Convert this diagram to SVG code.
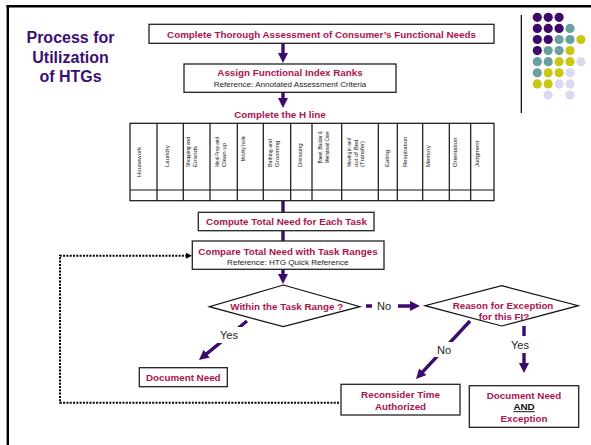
<svg xmlns="http://www.w3.org/2000/svg" width="591" height="445" viewBox="0 0 591 445">
<defs>
<style>
.bx{fill:#fff;stroke:#222;stroke-width:1.3}
.t{font-family:"Liberation Sans",Arial,sans-serif;font-weight:bold;font-size:9.8px;fill:#ab1350;text-anchor:middle}
.r{font-family:"Liberation Sans",Arial,sans-serif;font-size:8.1px;fill:#222;text-anchor:middle}
.lb{font-family:"Liberation Sans",Arial,sans-serif;font-size:11px;fill:#222;text-anchor:middle}
.ttl{font-family:"Liberation Sans",Arial,sans-serif;font-weight:bold;font-size:16px;fill:#3d0f70;text-anchor:middle}
.v{font-family:"Liberation Sans",Arial,sans-serif;font-size:6px;fill:#111}
.ar{stroke:#3c0b6e;stroke-width:3.4;fill:none}
.dp{fill:#3d0a6b}.dt{fill:#68a0a0}.dy{fill:#c8c814}.dl{fill:#d9d9ef}
</style>
<marker id="ah" markerUnits="userSpaceOnUse" markerWidth="10" markerHeight="10" viewBox="0 0 10 10" refX="3" refY="5" orient="auto">
<path d="M0,0 L10,5 L0,10 z" fill="#3c0b6e"/>
</marker>
</defs>
<rect width="591" height="445" fill="#fff"/>
<g id="frame">
<line x1="6.5" y1="6.2" x2="591" y2="6.2" stroke="#000" stroke-width="2.4"/>
<line x1="7.8" y1="5" x2="7.8" y2="445" stroke="#000" stroke-width="2.4"/>
<line x1="521.3" y1="15" x2="521.3" y2="113" stroke="#000" stroke-width="1.2"/>
</g>
<g id="dots">
<circle class="dp" cx="537.3" cy="17.3" r="4.6"/><circle class="dp" cx="548.2" cy="17.3" r="4.6"/><circle class="dp" cx="559.1" cy="17.3" r="4.6"/>
<circle class="dp" cx="537.3" cy="28.4" r="4.6"/><circle class="dp" cx="548.2" cy="28.4" r="4.6"/><circle class="dp" cx="559.1" cy="28.4" r="4.6"/><circle class="dt" cx="570" cy="28.4" r="4.6"/>
<circle class="dp" cx="537.3" cy="39.5" r="4.6"/><circle class="dp" cx="548.2" cy="39.5" r="4.6"/><circle class="dt" cx="559.1" cy="39.5" r="4.6"/><circle class="dt" cx="570" cy="39.5" r="4.6"/><circle class="dy" cx="580.9" cy="39.5" r="4.6"/>
<circle class="dp" cx="537.3" cy="50.6" r="4.6"/><circle class="dt" cx="548.2" cy="50.6" r="4.6"/><circle class="dt" cx="559.1" cy="50.6" r="4.6"/><circle class="dy" cx="570" cy="50.6" r="4.6"/>
<circle class="dt" cx="537.3" cy="61.7" r="4.6"/><circle class="dt" cx="548.2" cy="61.7" r="4.6"/><circle class="dy" cx="559.1" cy="61.7" r="4.6"/><circle class="dy" cx="570" cy="61.7" r="4.6"/><circle class="dl" cx="580.9" cy="61.7" r="4.6"/>
<circle class="dt" cx="537.3" cy="72.8" r="4.6"/><circle class="dy" cx="548.2" cy="72.8" r="4.6"/><circle class="dy" cx="559.1" cy="72.8" r="4.6"/><circle class="dl" cx="570" cy="72.8" r="4.6"/>
<circle class="dy" cx="537.3" cy="83.9" r="4.6"/><circle class="dy" cx="548.2" cy="83.9" r="4.6"/><circle class="dl" cx="559.1" cy="83.9" r="4.6"/><circle class="dl" cx="570" cy="83.9" r="4.6"/>
<circle class="dl" cx="548.2" cy="95" r="4.6"/><circle class="dl" cx="570" cy="95" r="4.6"/>
</g>
<g id="title">
<text class="ttl" x="70.5" y="43.3">Process for</text>
<text class="ttl" x="70.5" y="63.3">Utilization</text>
<text class="ttl" x="70.5" y="82">of HTGs</text>
</g>
<g id="connectors">
<line class="ar" x1="283" y1="43" x2="283" y2="56" marker-end="url(#ah)"/>
<line class="ar" x1="283" y1="92" x2="283" y2="101" marker-end="url(#ah)"/>
<line class="ar" x1="283" y1="201" x2="283" y2="212"/>
<line class="ar" x1="283" y1="231" x2="283" y2="241"/>
<line class="ar" x1="283" y1="269" x2="283" y2="277" marker-end="url(#ah)"/>
<line class="ar" x1="366" y1="306" x2="413" y2="306" marker-end="url(#ah)"/>
<line class="ar" x1="470" y1="321" x2="420.8" y2="373.9" marker-end="url(#ah)"/>
<line class="ar" x1="524" y1="326" x2="524" y2="366" marker-end="url(#ah)"/>
<line class="ar" x1="247" y1="321" x2="204.4" y2="355.6" marker-end="url(#ah)"/>
<path d="M339,402.7 H60 V255.8 H186" fill="none" stroke="#000" stroke-width="2" stroke-dasharray="2 1.3"/>
<polygon points="186,252.8 192,255.8 186,258.8" fill="#000"/>
<rect x="372" y="298" width="26" height="16" fill="#fff"/>
<text class="lb" x="384" y="310">No</text>
<rect x="433" y="342" width="22" height="15" fill="#fff"/>
<text class="lb" x="444" y="354">No</text>
<rect x="508" y="336" width="25" height="17" fill="#fff"/>
<text class="lb" x="520" y="349">Yes</text>
<rect x="216" y="327" width="26" height="16" fill="#fff"/>
<text class="lb" x="229" y="339">Yes</text>
</g>
<g id="n1">
<rect class="bx" x="149" y="24.3" width="345" height="19"/>
<text class="t" x="321.5" y="37.5">Complete Thorough Assessment of Consumer’s Functional Needs</text>
</g>
<g id="n2">
<rect class="bx" x="184" y="64" width="212" height="28.3"/>
<text class="t" x="290" y="76.2">Assign Functional Index Ranks</text>
<text class="r" x="290" y="87.2">Reference: Annotated Assessment Criteria</text>
</g>
<g id="n3">
<text class="t" x="280" y="118.2">Complete the H line</text>
<g fill="none" stroke="#111" stroke-width="1.2">
<rect x="130" y="123.3" width="364" height="77.4"/>
<line x1="130" y1="190" x2="494" y2="190"/>
<path d="M157,123.3V200.7 M183.3,123.3V200.7 M210,123.3V200.7 M237.3,123.3V200.7 M263.3,123.3V200.7 M290.7,123.3V200.7 M312,123.3V200.7 M341.7,123.3V200.7 M378.3,123.3V200.7 M397.3,123.3V200.7 M422.7,123.3V200.7 M449.3,123.3V200.7 M470.7,123.3V200.7"/>
</g>
<text class="v" transform="translate(141.3,177) rotate(-90)">Housework</text>
<text class="v" transform="translate(168.5,167) rotate(-90)">Laundry</text>
<text class="v" transform="translate(190.3,167) rotate(-90)" textLength="30" lengthAdjust="spacingAndGlyphs">Shopping and</text>
<text class="v" transform="translate(197.3,167) rotate(-90)">Errands</text>
<text class="v" transform="translate(218.7,167) rotate(-90)" textLength="30" lengthAdjust="spacingAndGlyphs">Meal Prep and</text>
<text class="v" transform="translate(226.3,167) rotate(-90)">Clean up</text>
<text class="v" transform="translate(245.3,161) rotate(-90)" textLength="25" lengthAdjust="spacingAndGlyphs">Mobility Inside</text>
<text class="v" transform="translate(272,167) rotate(-90)" textLength="28" lengthAdjust="spacingAndGlyphs">Bathing and</text>
<text class="v" transform="translate(279.3,167) rotate(-90)">Grooming</text>
<text class="v" transform="translate(302,167) rotate(-90)">Dressing</text>
<text class="v" transform="translate(322,163.3) rotate(-90)" textLength="32" lengthAdjust="spacingAndGlyphs">Bowel, Bladder &amp;</text>
<text class="v" transform="translate(329.3,163.3) rotate(-90)" textLength="32" lengthAdjust="spacingAndGlyphs">Menstrual Care</text>
<text class="v" transform="translate(351.3,167) rotate(-90)" textLength="29" lengthAdjust="spacingAndGlyphs">Moving in and</text>
<text class="v" transform="translate(357.5,167) rotate(-90)">out of Bed</text>
<text class="v" transform="translate(363.7,167) rotate(-90)">(Transfer)</text>
<text class="v" transform="translate(388.7,167) rotate(-90)">Eating</text>
<text class="v" transform="translate(407,167) rotate(-90)">Respiration</text>
<text class="v" transform="translate(430.3,167) rotate(-90)">Memory</text>
<text class="v" transform="translate(457,167) rotate(-90)">Orientation</text>
<text class="v" transform="translate(478.7,167) rotate(-90)">Judgment</text>
</g>
<g id="n4">
<rect class="bx" x="198.3" y="212.3" width="175.7" height="18.4"/>
<text class="t" x="286.5" y="225.2">Compute Total Need for Each Task</text>
</g>
<g id="n5">
<rect class="bx" x="192.3" y="241" width="191.7" height="28.3"/>
<text class="t" x="288" y="255.2">Compare Total Need with Task Ranges</text>
<text class="r" x="287.8" y="265.2">Reference: HTG Quick Reference</text>
</g>
<g id="n6">
<polygon points="283.3,285 360,306.7 283.3,326.7 209.3,306.7" fill="#fff" stroke="#111" stroke-width="1.2"/>
<text class="t" x="286.7" y="309.5">Within the Task Range ?</text>
</g>
<g id="n7">
<polygon points="501.7,285.7 578.3,305.7 501.7,326 425,305.7" fill="#fff" stroke="#111" stroke-width="1.2"/>
<text class="t" x="503" y="309.2">Reason for Exception</text>
<text class="t" x="504" y="320.2">for this FI?</text>
</g>
<g id="n8">
<rect class="bx" x="139.3" y="367.7" width="88" height="19"/>
<text class="t" x="183.3" y="380.8">Document Need</text>
</g>
<g id="n9">
<rect class="bx" x="341" y="384.3" width="119" height="30.7"/>
<text class="t" x="400.5" y="397.8">Reconsider Time</text>
<text class="t" x="400.5" y="409.8">Authorized</text>
</g>
<g id="n10">
<rect class="bx" x="469.3" y="385.7" width="109.4" height="41.6"/>
<text class="t" x="524" y="399.2">Document Need</text>
<text class="t" x="524" y="410.2" style="fill:#111;text-decoration:underline">AND</text>
<text class="t" x="524" y="421.8">Exception</text>
</g>
</svg>
